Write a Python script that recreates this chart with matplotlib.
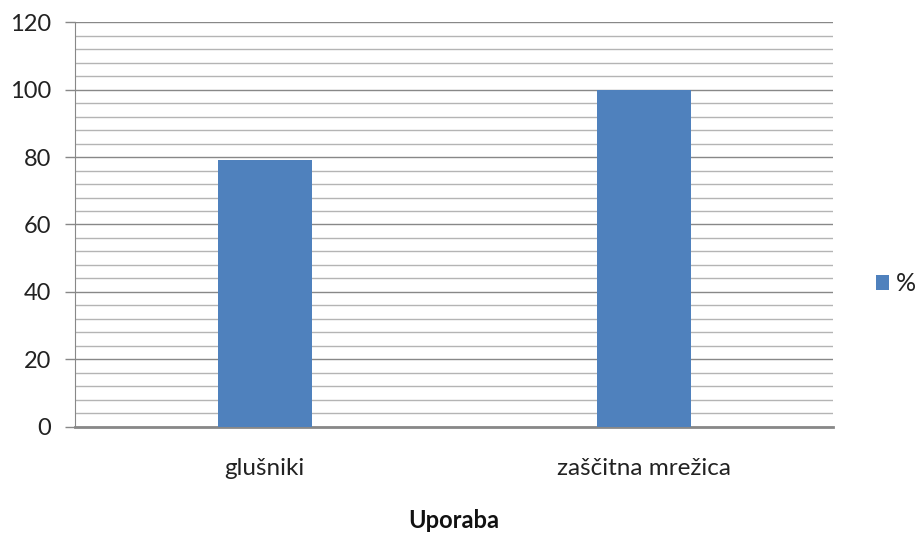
import matplotlib
matplotlib.use('Agg')
import matplotlib.pyplot as plt
from matplotlib.ticker import MultipleLocator

# podatki
kategorije = ['glušniki', 'zaščitna mrežica']
vrednosti = [79, 100]
serija = '%'
os_x = 'Uporaba'

plt.rcParams['font.family'] = ['Lato', 'DejaVu Sans']

fig = plt.figure(figsize=(9.16, 5.33), dpi=100)
ax = fig.add_axes([0.0819, 0.1989, 0.8275, 0.7598])

x = range(len(kategorije))
ax.bar(x, vrednosti, width=0.248, color='#4f81bd', label=serija, zorder=3)

ax.set_xlim(-0.5, len(kategorije) - 0.5)
ax.set_ylim(0, 120)
ax.yaxis.set_major_locator(MultipleLocator(20))
ax.yaxis.set_minor_locator(MultipleLocator(4))
ax.grid(which='major', axis='y', color='#888888', linewidth=1.0, zorder=0)
ax.grid(which='minor', axis='y', color='#b4b4b4', linewidth=1.0, zorder=0)

ax.set_xticks(list(x))
ax.set_xticklabels(kategorije, fontsize=17.5, color='#222222')
ax.tick_params(axis='x', length=0, pad=22)
ax.tick_params(axis='y', which='major', length=7, width=1, color='#888888',
               labelsize=17, labelcolor='#222222', pad=10)
ax.tick_params(axis='y', which='minor', length=0)

for s in ['top', 'right']:
    ax.spines[s].set_visible(False)
ax.spines['left'].set_color('#888888')
ax.spines['bottom'].set_color('#888888')
ax.spines['bottom'].set_linewidth(2)

ax.set_xlabel(os_x, fontsize=17, fontweight='bold', color='#111111', labelpad=22)

fig.legend(loc='center left', bbox_to_anchor=(0.956, 0.468), frameon=False,
           fontsize=18, handlelength=0.55, handleheight=0.55, handletextpad=0.25,
           borderpad=0, borderaxespad=0, labelcolor='#222222')

fig.savefig('out.png', dpi=100)
